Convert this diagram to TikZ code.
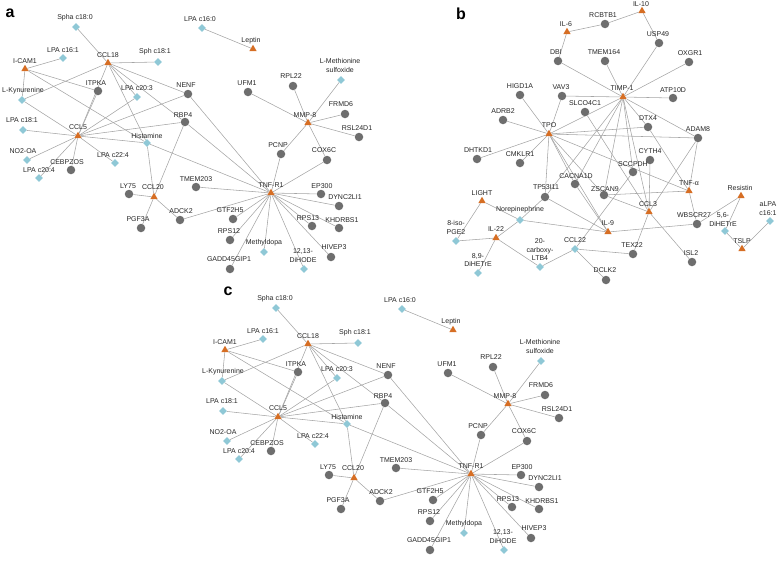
\documentclass[tikz,border=0pt]{standalone}
\usepackage{fontspec}
\setmainfont{Liberation Sans}
\usetikzlibrary{shapes.geometric,backgrounds}
\definecolor{cgray}{RGB}{110,110,110}
\definecolor{cblue}{RGB}{143,200,214}
\definecolor{corange}{RGB}{214,110,36}
\definecolor{cedge}{RGB}{165,165,165}
\tikzset{
 cnode/.style={circle,fill=cgray,inner sep=0,minimum size=8.5pt},
 tnode/.style={regular polygon,regular polygon sides=3,fill=corange,inner sep=0,minimum size=8.5pt},
 dnode/.style={diamond,fill=cblue,inner sep=0,minimum width=8pt,minimum height=8pt},
 lab/.style={font=\fontsize{7}{8.5}\selectfont,inner sep=0,align=center,text=black!85},
 edge/.style={draw=cedge,line width=0.55pt},
 plabel/.style={font=\fontsize{16}{16}\bfseries\selectfont,inner sep=0}
}
\newcommand\Cn[4]{\node[cnode] (#1) at (#2) {}; \node[lab] (#1L) at (#3) {#4};}
\newcommand\Tn[4]{\node[tnode] (#1) at (#2) {}; \node[lab] (#1L) at (#3) {#4};}
\newcommand\Dn[4]{\node[dnode] (#1) at (#2) {}; \node[lab] (#1L) at (#3) {#4};}
\newcommand\panelA{%
\Tn{ICAM1}{25,69}{25,61}{I-CAM1}
\Tn{CCL18}{108,63}{108,55}{CCL18}
\Tn{CCL5}{78,136}{78,127}{CCL5}
\Tn{CCL20}{154,197}{153,187}{CCL20}
\Tn{Leptin}{253,49}{251,41}{Leptin}
\Tn{MMP8}{308,123}{305,115}{MMP-8}
\Tn{TNFR1}{271,193}{271,185}{TNF-R1}
\Dn{Spha}{76,27}{75,18}{Spha c18:0}
\Dn{LPAa}{63,58}{63,50}{LPA c16:1}
\Dn{Sph}{158,62}{155,52}{Sph c18:1}
\Dn{LPAb}{137,97}{137,88}{LPA c20:3}
\Dn{LKyn}{22,100}{23,91}{L-Kynurenine}
\Dn{LPAc}{23,130}{22,120}{LPA c18:1}
\Dn{Hist}{147,143}{147,136}{Histamine}
\Dn{NOA}{27,160}{23,151}{NO2-OA}
\Dn{LPAd}{115,163}{113,155}{LPA c22:4}
\Dn{LPAe}{39,178}{39,170}{LPA c20:4}
\Dn{LPAf}{202,28}{200,19}{LPA c16:0}
\Dn{LMet}{341,80}{340,65.5}{L-Methionine\\sulfoxide}
\Dn{Mdopa}{264,252}{264,243}{Methyldopa}
\Dn{DiHODE}{304,269}{303,255.5}{12,13-\\DiHODE}
\Cn{ITPKA}{98,91}{96,83}{ITPKA}
\Cn{NENF}{188,94}{186,85}{NENF}
\Cn{RBP4}{185,122}{183,115}{RBP4}
\Cn{CEBPZOS}{71,170}{67,162}{CEBPZOS}
\Cn{LY75}{129,194}{128,186}{LY75}
\Cn{PGF3A}{141,228}{138,219}{PGF3A}
\Cn{ADCK2}{180,220}{181,211}{ADCK2}
\Cn{TMEM203}{196,187}{196,179}{TMEM203}
\Cn{GTF2H5}{233,219}{230,210}{GTF2H5}
\Cn{RPS12}{230,240}{229,231}{RPS12}
\Cn{GADD}{230,269}{229,259}{GADD45GIP1}
\Cn{PCNP}{281,154}{278,145}{PCNP}
\Cn{COX6C}{327,160}{324,150}{COX6C}
\Cn{EP300}{321,194}{322,186}{EP300}
\Cn{DYNC}{339,206}{345,197}{DYNC2LI1}
\Cn{RPS13}{312,226}{308,218}{RPS13}
\Cn{KHDRBS1}{339,228}{342,220}{KHDRBS1}
\Cn{HIVEP3}{331,257}{334,247}{HIVEP3}
\Cn{UFM1}{248,92}{247,83}{UFM1}
\Cn{RPL22}{293,86}{291,76}{RPL22}
\Cn{FRMD6}{345,114}{341,104}{FRMD6}
\Cn{RSL}{359,137}{357,128}{RSL24D1}
\begin{pgfonlayer}{background}
\foreach \u/\v in {ICAM1/LPAa,ICAM1/LKyn,ICAM1/ITPKA,ICAM1/Hist,
 CCL18/Spha,CCL18/Sph,CCL18/LKyn,CCL18/CCL5,CCL18/LPAb,CCL18/Hist,CCL18/NENF,CCL18/RBP4,
 CCL5/LKyn,CCL5/LPAc,CCL5/NOA,CCL5/LPAe,CCL5/CEBPZOS,CCL5/LPAd,CCL5/Hist,CCL5/ITPKA,CCL5/LPAb,CCL5/NENF,CCL5/RBP4,
 Hist/CCL20,Hist/TNFR1,RBP4/CCL20,RBP4/TNFR1,NENF/TNFR1,
 CCL20/LY75,CCL20/PGF3A,CCL20/ADCK2,ADCK2/TNFR1,
 TNFR1/TMEM203,TNFR1/GTF2H5,TNFR1/RPS12,TNFR1/GADD,TNFR1/Mdopa,TNFR1/DiHODE,TNFR1/HIVEP3,TNFR1/RPS13,TNFR1/KHDRBS1,TNFR1/DYNC,TNFR1/EP300,TNFR1/COX6C,TNFR1/PCNP,
 MMP8/PCNP,MMP8/COX6C,MMP8/UFM1,MMP8/RPL22,MMP8/LMet,MMP8/FRMD6,MMP8/RSL,LPAf/Leptin}
 {\draw[edge] (\u) -- (\v);}
\end{pgfonlayer}
}
\begin{document}
\begin{tikzpicture}[x=1pt,y=-1pt]
\useasboundingbox (0,0) rectangle (778,568);
\node[plabel] (pa) at (10,13) {a};
\node[plabel] (pb) at (461,14) {b};
\node[plabel] (pc) at (228,291) {c};
\begin{scope}[name prefix=a-]
\panelA
\end{scope}
\begin{scope}[shift={(200,281)},name prefix=c-]
\panelA
\end{scope}
% panel b
\Tn{IL6}{567,32}{566,24}{IL-6}
\Tn{IL10}{642,11}{641,4}{IL-10}
\Tn{TIMP1}{623,97}{622,88}{TIMP-1}
\Tn{TPO}{549,134}{549,125}{TPO}
\Tn{LIGHT}{482,201}{482,193}{LIGHT}
\Tn{IL22}{496,238}{496,229}{IL-22}
\Tn{IL9}{608,232}{608,223}{IL-9}
\Tn{CCL3}{649,212}{648,204}{CCL3}
\Tn{TNFa}{689,191}{689,183}{TNF-α}
\Tn{Resistin}{741,196}{740,188}{Resistin}
\Tn{TSLP}{742,249}{742,241}{TSLP}
\Dn{Norepi}{520,220}{520,210}{Norepinephrine}
\Dn{isoPGE}{456,241}{456,227.5}{8-iso-\\PGE2}
\Dn{DiHETa}{478,273}{478,260}{8,9-\\DiHETrE}
\Dn{carboxy}{540,267}{540,250}{20-\\carboxy-\\LTB4}
\Dn{CCL22}{575,249}{575,240}{CCL22}
\Dn{DiHETb}{725,231}{723,219.5}{5,6-\\DiHETrE}
\Dn{aLPA}{770,221}{768,208.5}{aLPA\\c16:1}
\Cn{DBI}{558,61}{556,52}{DBI}
\Cn{HIGD1A}{520,95}{520,86}{HIGD1A}
\Cn{VAV3}{562,96}{561,87}{VAV3}
\Cn{SLCO}{585,112}{585,103}{SLCO4C1}
\Cn{ADRB2}{503,120}{503,111}{ADRB2}
\Cn{DHTKD1}{477,159}{478,150}{DHTKD1}
\Cn{CMKLR1}{520,163}{520,154}{CMKLR1}
\Cn{RCBTB1}{605,24}{603,15}{RCBTB1}
\Cn{USP49}{659,43}{658,34}{USP49}
\Cn{TMEM164}{605,61}{604,52}{TMEM164}
\Cn{OXGR1}{689,62}{690,53}{OXGR1}
\Cn{ATP10D}{673,98}{673,90}{ATP10D}
\Cn{DTX4}{648,127}{648,118}{DTX4}
\Cn{ADAM8}{698,138}{698,129}{ADAM8}
\Cn{CYTH4}{650,160}{650,151}{CYTH4}
\Cn{SCCPDH}{633,172}{633,164}{SCCPDH}
\Cn{CACNA}{575,184}{576,176}{CACNA1D}
\Cn{TP53}{545,197}{546,187}{TP53I11}
\Cn{ZSCAN9}{604,195}{605,189}{ZSCAN9}
\Cn{WBSCR27}{697,224}{694,215}{WBSCR27}
\Cn{TEX22}{633,254}{632,245}{TEX22}
\Cn{ISL2}{692,262}{691,253}{ISL2}
\Cn{DCLK2}{606,280}{605,270}{DCLK2}
\begin{pgfonlayer}{background}
\foreach \u/\v in {IL6/DBI,IL6/RCBTB1,RCBTB1/IL10,IL10/USP49,USP49/TIMP1,DBI/TIMP1,TMEM164/TIMP1,OXGR1/TIMP1,ATP10D/TIMP1,VAV3/TIMP1,
 TIMP1/TPO,TIMP1/DTX4,TIMP1/ADAM8,TIMP1/CACNA,TIMP1/TP53,TIMP1/ZSCAN9,TIMP1/SCCPDH,TIMP1/CCL3,
 TPO/HIGD1A,TPO/VAV3,TPO/ADRB2,TPO/DHTKD1,TPO/CMKLR1,TPO/DTX4,TPO/ADAM8,TPO/CACNA,TPO/TP53,TPO/IL9,TPO/ZSCAN9,TPO/TNFa,
 SLCO/CCL3,CYTH4/CCL3,ADAM8/TNFa,ADAM8/CCL3,DTX4/TNFa,
 ZSCAN9/TNFa,ZSCAN9/CCL3,SCCPDH/CCL22,CACNA/IL9,TP53/IL9,TP53/Norepi,
 Norepi/IL9,Norepi/LIGHT,Norepi/IL22,LIGHT/isoPGE,IL22/isoPGE,IL22/DiHETa,IL22/carboxy,carboxy/CCL22,CCL22/TEX22,CCL22/DCLK2,
 CCL3/TEX22,CCL3/ISL2,IL9/WBSCR27,TNFa/WBSCR27,WBSCR27/Resistin,Resistin/DiHETb,DiHETb/TSLP,aLPA/TSLP}
 {\draw[edge] (\u) -- (\v);}
\end{pgfonlayer}
\end{tikzpicture}
\end{document}
